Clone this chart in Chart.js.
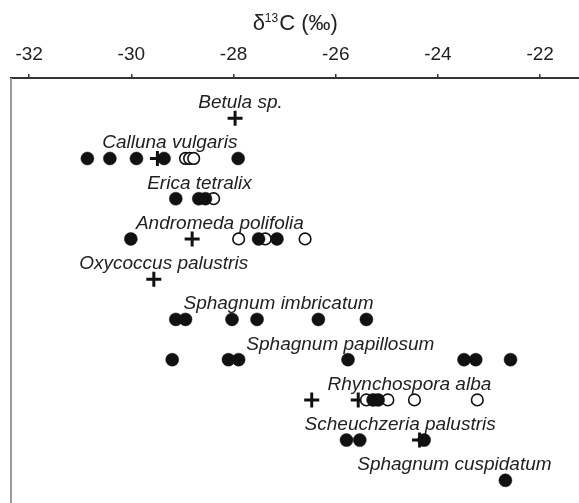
<!DOCTYPE html>
<html>
<head>
<meta charset="utf-8">
<script src="https://cdn.jsdelivr.net/npm/chart.js@4.4.1/dist/chart.umd.min.js"></script>
<style>
    html, body { margin: 0; padding: 0; background: #fff; overflow: hidden; }
    #wrap { width: 579px; height: 503px; overflow: hidden; }
</style>
</head>
<body>
<div id="wrap"><canvas id="grafico" width="590" height="515"></canvas></div>
<script>
// Species, one row each (top to bottom)
const species = [
    'Betula sp.', 'Calluna vulgaris', 'Erica tetralix', 'Andromeda polifolia',
    'Oxycoccus palustris', 'Sphagnum imbricatum', 'Sphagnum papillosum',
    'Rhynchospora alba', 'Scheuchzeria palustris', 'Sphagnum cuspidatum'
];

// delta13C values (permil) per species
const filledValues = [
    [],
    [-30.86, -30.42, -29.90, -29.36, -27.91],
    [-29.13, -28.68, -28.55],
    [-30.01, -27.51, -27.15],
    [],
    [-29.13, -28.94, -28.03, -27.54, -26.34, -25.40],
    [-29.20, -28.10, -27.90, -25.76, -23.49, -23.26, -22.58],
    [-25.27, -25.17],
    [-25.79, -25.53, -24.27],
    [-22.68]
];
const openValues = [
    [],
    [-28.94, -28.86, -28.78],
    [-28.39],
    [-27.90, -27.38, -26.60],
    [],
    [],
    [],
    [-25.40, -24.98, -24.46, -23.23],
    [],
    []
];
const crossValues = [
    [-27.97],
    [-29.49],
    [],
    [-28.81],
    [-29.56],
    [],
    [],
    [-26.47, -25.56],
    [-24.36],
    []
];

const xTicks = [-32, -30, -28, -26, -24, -22];

// where each species name starts (permil)
const labelStart = [-28.69, -30.57, -29.69, -29.91, -31.02, -28.98, -27.75, -26.16, -26.61, -25.58];

function toPoints(rows) {
    const pts = [];
    rows.forEach((vals, i) => {
        vals.forEach(v => pts.push({ x: v, y: i }));
    });
    return pts;
}

const FONT = '"Liberation Sans", Arial, sans-serif';

// Axis title with a real superscript, species names and the left border
const speciesLabels = {
    id: 'speciesLabels',
    afterDraw(chart) {
        const ctx = chart.ctx;
        const xs = chart.scales.x;
        const ys = chart.scales.y;
        const area = chart.chartArea;

        ctx.save();
        ctx.strokeStyle = '#9a9a9a';
        ctx.lineWidth = 2;
        ctx.beginPath();
        ctx.moveTo(area.left, area.top);
        ctx.lineTo(area.left, area.bottom);
        ctx.stroke();

        // title: delta 13 C (permil), centred over the box
        const big = '22px ' + FONT;
        const small = '12px ' + FONT;
        const parts = [['δ', big, 0], ['13', small, -8], ['C (‰)', big, 0]];
        let w = 0;
        parts.forEach(p => { ctx.font = p[1]; w += ctx.measureText(p[0]).width + (p[0] === '13' ? 1 : 0); });
        let tx = (area.left + area.right) / 2 - w / 2;
        ctx.fillStyle = '#222';
        ctx.textAlign = 'left';
        ctx.textBaseline = 'alphabetic';
        parts.forEach(p => {
            ctx.font = p[1];
            ctx.fillText(p[0], tx, 30 + p[2]);
            tx += ctx.measureText(p[0]).width + (p[0] === '13' ? 1 : 0);
        });

        ctx.font = 'italic 19px ' + FONT;
        ctx.fillStyle = '#222';
        species.forEach((name, i) => {
            ctx.fillText(name, xs.getPixelForValue(labelStart[i]), ys.getPixelForValue(i) - 10);
        });
        ctx.restore();
    }
};

new Chart(document.getElementById('grafico'), {
    type: 'scatter',
    data: {
        datasets: [{
            label: 'filled',
            data: toPoints(filledValues),
            pointStyle: 'circle',
            pointRadius: 6.5,
            backgroundColor: '#111',
            borderColor: '#111',
            borderWidth: 0.5
        }, {
            label: 'open',
            data: toPoints(openValues),
            pointStyle: 'circle',
            pointRadius: 5.8,
            backgroundColor: '#fff',
            borderColor: '#111',
            borderWidth: 1.6
        }, {
            label: 'cross',
            data: toPoints(crossValues),
            pointStyle: 'cross',
            pointRadius: 7.5,
            borderColor: '#111',
            borderWidth: 3
        }]
    },
    options: {
        responsive: false,
        animation: false,
        layout: {
            padding: { left: 11, right: 6, top: 0, bottom: 5 }
        },
        plugins: {
            legend: { display: false },
            tooltip: { enabled: false }
        },
        scales: {
            x: {
                type: 'linear',
                position: 'top',
                min: -32.355,
                max: -21.23,
                afterBuildTicks: scale => {
                    scale.ticks = xTicks.map(v => ({ value: v }));
                },
                afterFit: scale => {
                    scale.height = 78;
                },
                ticks: {
                    color: '#222',
                    padding: 8,
                    font: { family: FONT, size: 19 },
                    callback: v => String(v)
                },
                grid: {
                    display: true,
                    drawOnChartArea: false,
                    drawTicks: true,
                    tickLength: 4,
                    color: '#333',
                    lineWidth: 1.5
                },
                border: { display: true, color: '#333', width: 2 },
                title: { display: false }
            },
            y: {
                type: 'linear',
                display: false,
                reverse: true,
                min: -1,
                max: 9.6
            }
        }
    },
    plugins: [speciesLabels]
});
</script>
</body>
</html>
